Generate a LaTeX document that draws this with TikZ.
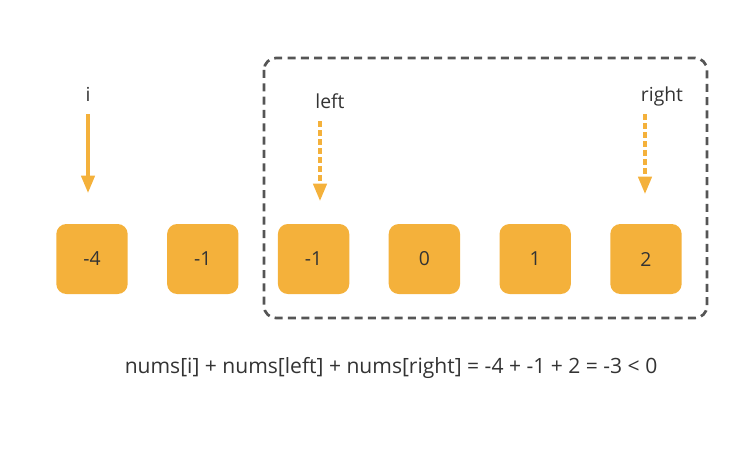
\documentclass[tikz,border=0pt]{standalone}
\usepackage{fontspec}
\setmainfont{Open Sans}
\usepackage{xcolor}
\usetikzlibrary{arrows.meta, positioning, calc}
\definecolor{cellfill}{HTML}{F4B13B}
\definecolor{txtgray}{HTML}{333333}
\definecolor{framegray}{HTML}{555555}

\begin{document}
\begin{tikzpicture}[x=0.75pt,y=-0.75pt,
    cell/.style={fill=cellfill, rounded corners=7.5pt, minimum width=53.5pt,
      minimum height=52.5pt, inner sep=0pt, text=txtgray,
      font=\fontsize{14.5}{17}\selectfont},
    lbl/.style={text=txtgray, inner sep=0pt, text depth=2pt, anchor=base,
      font=\fontsize{14.5}{17}\selectfont},
    ptr/.style={draw=cellfill, line width=2.5pt, shorten <=7pt,
      -{Triangle[width=10pt,length=13pt]}},
    dptr/.style={ptr, dash pattern=on 4.5pt off 2.2pt}]
  \useasboundingbox (0,0) rectangle (731,449);

  % Window
  \draw[framegray, line width=2pt, dash pattern=on 6pt off 4pt,
    rounded corners=9pt] (264,58) rectangle (707,318);

  % Cells
  \foreach \v [count=\k from 0] in {-4,-1,-1,0,1,2}
    \node[cell] (n\k) at ({92+110.8*\k},259) {\v};

  % Pointers
  \node[lbl] (pi) at (88,102) {i};
  \node[lbl] (pl) at (330,109) {left};
  \node[lbl] (pr) at (662,102) {right};
  \coordinate (ti) at (88,193);
  \coordinate (tl) at (320,201);
  \coordinate (tr) at (645,194);
  \draw[ptr] (pi.south -| ti) -- (ti);
  \draw[dptr] (pl.south -| tl) -- (tl);
  \draw[dptr] (pr.south -| tr) -- (tr);

  % Sum
  \node[lbl, font=\fontsize{15.8}{18}\selectfont] (sum) at (391,373)
    {nums[i] + nums[left] + nums[right] = -4 + -1 + 2 = -3 < 0};
\end{tikzpicture}
\end{document}
